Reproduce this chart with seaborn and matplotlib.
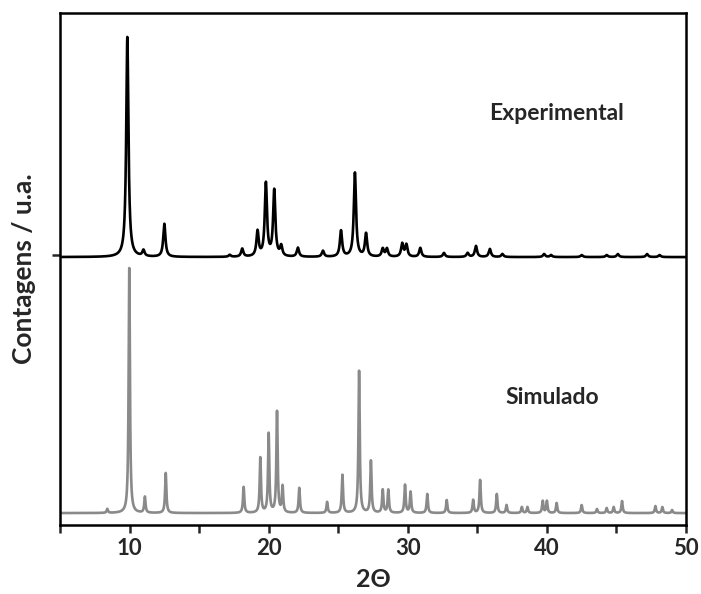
import numpy as np
import pandas as pd
import matplotlib.pyplot as plt
import seaborn as sns

# peak positions (2theta) and heights (arbitrary units)
exp_pos = [9.84, 11.0, 12.5, 17.2, 18.1, 19.2, 19.8, 20.4, 20.9, 22.1, 23.9, 25.2, 26.2, 27.0,
           28.2, 28.5, 29.6, 29.9, 30.9, 32.6, 34.3, 34.9, 35.9, 36.8, 39.8, 40.3, 42.5, 44.3,
           45.1, 47.2, 48.1]
exp_int = [220, 6, 33, 2, 8, 25, 73, 66, 10, 9, 6, 26, 84, 23,
           8, 8, 13, 12, 9, 4, 4, 11, 8, 3, 3, 2, 2, 2,
           3, 3, 2]
sim_pos = [8.4, 9.98, 11.1, 12.6, 18.2, 19.4, 20.0, 20.6, 21.0, 22.2, 24.2, 25.3, 26.5, 27.35,
           28.2, 28.6, 29.8, 30.2, 31.4, 32.8, 34.7, 35.2, 36.4, 37.1, 38.2, 38.6, 39.7, 40.0,
           40.7, 42.5, 43.6, 44.3, 44.8, 45.4, 47.8, 48.3, 49.0]
sim_int = [4, 245, 16, 40, 26, 55, 79, 101, 26, 25, 11, 38, 142, 52,
           23, 23, 28, 21, 19, 13, 13, 33, 19, 8, 6, 6, 12, 12,
           10, 8, 4, 5, 6, 12, 7, 6, 3]
exp_offset = 268
sim_offset = 12

two_theta = np.linspace(5, 50, 9001)


def profile(pos, heights, hwhm, offset):
    y = np.full_like(two_theta, offset, dtype=float)
    for p, h in zip(pos, heights):
        y += h / (1 + ((two_theta - p) / hwhm) ** 2)
    return y


df = pd.DataFrame({
    "2theta": np.concatenate([two_theta, two_theta]),
    "counts": np.concatenate([profile(exp_pos, exp_int, 0.095, exp_offset),
                              profile(sim_pos, sim_int, 0.055, sim_offset)]),
    "pattern": ["Experimental"] * len(two_theta) + ["Simulado"] * len(two_theta),
})

sns.set_style("ticks")
plt.rcParams["font.family"] = ["Lato", "DejaVu Sans"]

fig = plt.figure(figsize=(7.01, 5.94), dpi=100)
ax = fig.add_axes([0.0856, 0.116, 0.893, 0.862])
sns.lineplot(data=df, x="2theta", y="counts", hue="pattern",
             palette={"Experimental": "black", "Simulado": "#8a8a8a"},
             linewidth=1.9, legend=False, ax=ax, estimator=None, sort=False)

ax.set_xlim(5, 50)
ax.set_ylim(0, 512)
ax.set_xticks([10, 20, 30, 40, 50])
ax.set_xticks([5, 15, 25, 35, 45], minor=True)
ax.set_yticks([exp_offset + 2])
ax.set_yticklabels([])
ax.tick_params(axis="x", which="both", direction="out", length=6, width=1.8, labelsize=16)
ax.tick_params(axis="y", direction="out", length=6, width=1.8)
for lab in ax.get_xticklabels():
    lab.set_fontweight("bold")
for s in ax.spines.values():
    s.set_linewidth(1.8)
    s.set_color("black")

ax.set_xlabel("2Θ", fontsize=18, fontweight="bold", labelpad=6)
ax.set_ylabel("Contagens / u.a.", fontsize=19, fontweight="bold", labelpad=8)

ax.text(40.7, 412, "Experimental", fontsize=16.5, fontweight="bold", ha="center", va="center")
ax.text(40.4, 128, "Simulado", fontsize=16.5, fontweight="bold", ha="center", va="center")

fig.savefig("out.png", dpi=100)
